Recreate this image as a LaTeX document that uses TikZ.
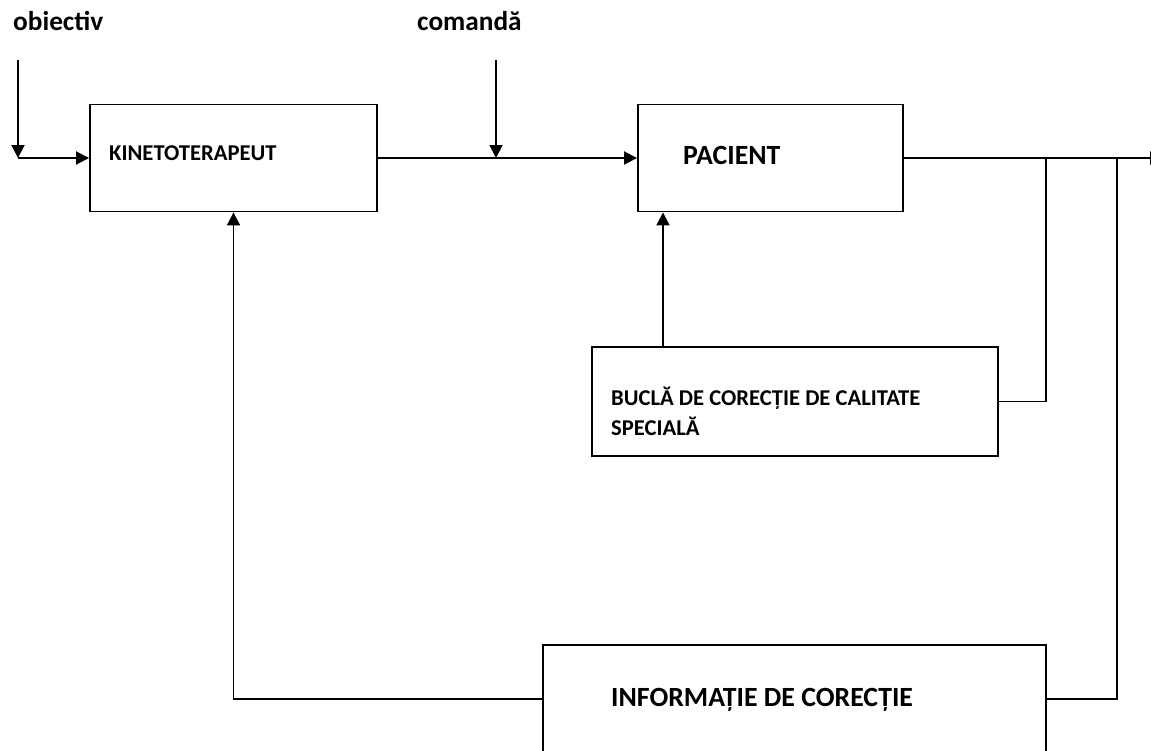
\documentclass[tikz,border=0pt]{standalone}
\usepackage{fontspec}
\setmainfont{Carlito}
\usetikzlibrary{arrows.meta}
\tikzset{
  box/.style={draw, line width=1.9pt, inner sep=0pt},
  lbl/.style={inner sep=0pt, anchor=base west, font=\bfseries},
  ln/.style={line width=1.9pt},
  arr/.style={line width=1.9pt, -{Triangle[length=13pt,width=13pt]}}
}
\begin{document}
\begin{tikzpicture}[x=1pt,y=-1pt]
\useasboundingbox (0,0) rectangle (1151,750);
\clip (0,0) rectangle (1151,750);
% boxes
\node[box, minimum width=287pt, minimum height=107pt] (kin) at (233.5,158) {};
\node[box, minimum width=265pt, minimum height=107pt] (pac) at (770.5,158) {};
\node[box, minimum width=406pt, minimum height=109pt] (bucla) at (795,401.5) {};
\node[box, minimum width=503pt, minimum height=112pt] (info) at (794.5,701) {};
% labels
\node[lbl, font=\bfseries\fontsize{27.3}{32}\selectfont] (tobj) at (13,30) {obiectiv};
\node[lbl, font=\bfseries\fontsize{27.3}{32}\selectfont] (tcom) at (417,30) {comandă};
\node[lbl, font=\bfseries\fontsize{22.6}{27}\selectfont] (tkin) at (109,160) {KINETOTERAPEUT};
\node[lbl, font=\bfseries\fontsize{27.8}{32}\selectfont] (tpac) at (683,164) {PACIENT};
\node[lbl, font=\bfseries\fontsize{22.6}{27}\selectfont] (tb1) at (611,405) {BUCLĂ DE CORECȚIE DE CALITATE};
\node[lbl, font=\bfseries\fontsize{22.6}{27}\selectfont] (tb2) at (611,435) {SPECIALĂ};
\node[lbl, font=\bfseries\fontsize{27.8}{32}\selectfont] (tinf) at (611,706) {INFORMAȚIE DE CORECȚIE};
% coordinates
\coordinate (o1) at (18,60);
\coordinate (o2) at (18,158);
\coordinate (c1) at (496,60);
\coordinate (j1) at (1046,158);
\coordinate (j2) at (1117,158);
\coordinate (out) at (1163,158);
\coordinate (bx) at (663,0);
\coordinate (iy) at (0,699);
% connectors
\draw[arr] (o1) -- (o2);
\draw[arr] (o2) -- (kin.west);
\draw[arr] (kin.east) -- (pac.west);
\draw[arr] (c1) -- (c1 |- kin.east);
\draw[arr] (pac.east) -- (out);
\draw[ln] (j1) |- (bucla.east);
\draw[ln] (j2) |- (info.east |- iy);
\draw[arr] (bx |- bucla.north) -- (bx |- pac.south);
\draw[arr] (info.west |- iy) -| (kin.south);
\end{tikzpicture}
\end{document}
